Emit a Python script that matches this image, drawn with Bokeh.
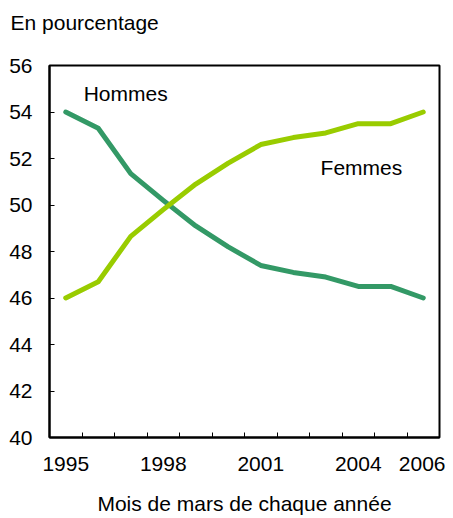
from bokeh.plotting import figure
from bokeh.models import FixedTicker, Range1d, ColumnDataSource
from bokeh.embed import file_html
from bokeh.resources import INLINE
from bokeh.core.properties import value

years = [1995, 1996, 1997, 1998, 1999, 2000, 2001, 2002, 2003, 2004, 2005, 2006]
hommes = [54.0, 53.3, 51.35, 50.2, 49.1, 48.2, 47.4, 47.1, 46.9, 46.5, 46.5, 46.0]
femmes = [46.0, 46.7, 48.65, 49.8, 50.9, 51.8, 52.6, 52.9, 53.1, 53.5, 53.5, 54.0]
labeled_years = [1995, 1998, 2001, 2004, 2006]
y_ticks = [40, 42, 44, 46, 48, 50, 52, 54, 56]

FONT = "Liberation Sans"
FS = "21px"
C_H = "#339966"
C_F = "#99cc00"

W, H = 445, 518
TOP, BOTTOM, LEFT, RIGHT = 65, 81, 49, 6

p = figure(width=W, height=H, output_backend="svg", toolbar_location=None,
           x_range=Range1d(1994.5, 2006.5), y_range=Range1d(40, 56),
           min_border_left=LEFT, min_border_right=RIGHT,
           min_border_bottom=BOTTOM, min_border_top=TOP)

p.title.text = "En pourcentage\n "
p.title.align = "left"
p.title.vertical_align = "top"
p.title.offset = -39
p.title.standoff = 14
p.title.text_font = FONT
p.title.text_font_size = FS
p.title.text_font_style = "normal"
p.title.text_color = "#000000"

p.xgrid.visible = False
p.ygrid.visible = False
p.outline_line_color = "black"
p.outline_line_width = 2
p.background_fill_color = "white"
p.border_fill_color = "white"

src = ColumnDataSource(dict(x=years, h=hommes, f=femmes))
p.line("x", "h", source=src, line_color=C_H, line_width=5, line_cap="round", line_join="round")
p.line("x", "f", source=src, line_color=C_F, line_width=5, line_cap="round", line_join="round")

p.text(x=[1995.55], y=[54.8], text=["Hommes"], text_font=value(FONT), text_font_size=FS,
       text_align="left", text_baseline="middle", text_color="black")
p.text(x=[2002.84], y=[51.6], text=["Femmes"], text_font=value(FONT), text_font_size=FS,
       text_align="left", text_baseline="middle", text_color="black")

xa = p.xaxis[0]
xa.ticker = FixedTicker(ticks=labeled_years, minor_ticks=[y + 0.5 for y in years[:-1]])
xa.major_tick_in = 0
xa.major_tick_out = 0
xa.minor_tick_in = 5
xa.minor_tick_out = 0
xa.minor_tick_line_color = "black"
xa.minor_tick_line_width = 1
xa.axis_line_width = 2
xa.axis_line_color = "black"
xa.major_label_text_font = FONT
xa.major_label_text_font_size = FS
xa.major_label_text_color = "black"
xa.major_label_standoff = 19
xa.axis_label = "Mois de mars de chaque année"
xa.axis_label_text_font = FONT
xa.axis_label_text_font_size = FS
xa.axis_label_text_font_style = "normal"
xa.axis_label_text_color = "black"
xa.axis_label_standoff = 18

ya = p.yaxis[0]
ya.ticker = FixedTicker(ticks=y_ticks)
ya.major_tick_in = 5
ya.major_tick_out = 0
ya.minor_tick_in = 0
ya.minor_tick_out = 0
ya.major_tick_line_color = "black"
ya.axis_line_width = 2
ya.axis_line_color = "black"
ya.major_label_text_font = FONT
ya.major_label_text_font_size = FS
ya.major_label_text_color = "black"
ya.major_label_standoff = 17

open("out.html", "w").write(file_html(p, INLINE))
